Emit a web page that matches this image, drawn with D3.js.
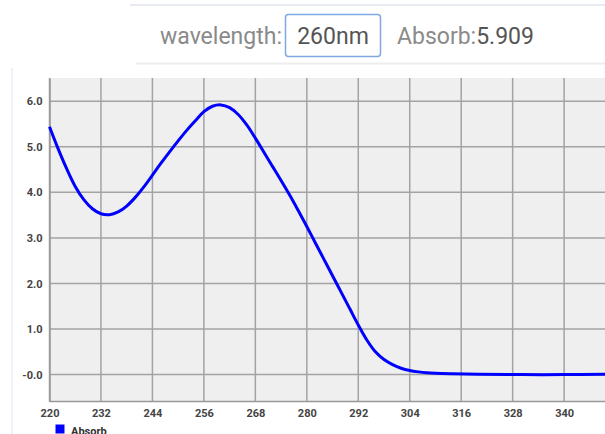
<!DOCTYPE html>
<html>
<head>
<meta charset="utf-8">
<script src="https://cdn.jsdelivr.net/npm/d3@7"></script>
<style>
  html, body { margin: 0; padding: 0; background: #fff; overflow: hidden; }
  svg { display: block; }
</style>
</head>
<body>
<div id="chart"></div>
<script>
// spectrum (nm -> absorbance)
var wavelengths = [220, 222, 224, 226, 228, 230, 232, 234, 236, 238, 240, 242, 244, 246, 248, 250,
  252, 254, 256, 258, 260, 262, 264, 266, 268, 270, 272, 274, 276, 278, 280, 282, 284, 286, 288,
  290, 292, 294, 296, 298, 300, 302, 304, 306, 308, 310, 314, 320, 330, 340, 350];
var absorb = [5.44, 4.96, 4.52, 4.13, 3.84, 3.64, 3.53, 3.51, 3.57, 3.70, 3.89, 4.12, 4.38, 4.64, 4.89, 5.13,
  5.36, 5.57, 5.77, 5.89, 5.92, 5.86, 5.71, 5.48, 5.19, 4.88, 4.57, 4.26, 3.94, 3.60, 3.25, 2.89, 2.53, 2.17, 1.81,
  1.45, 1.09, 0.76, 0.50, 0.33, 0.22, 0.14, 0.09, 0.06, 0.04, 0.03, 0.02, 0.01, 0.00, 0.00, 0.01];
var xTicks = [220, 232, 244, 256, 268, 280, 292, 304, 316, 328, 340];
var yTicks = [0, 1, 2, 3, 4, 5, 6];
var seriesName = "Absorb";
var selWavelength = "260nm";
var selAbsorb = "5.909";

var W = 605, H = 434;
var svg = d3.select("#chart").append("svg").attr("width", W).attr("height", H);

// header
svg.append("line").attr("x1", 130).attr("x2", W).attr("y1", 5).attr("y2", 5)
  .attr("stroke", "#e8ecf2").attr("stroke-width", 2);
svg.append("line").attr("x1", 136).attr("x2", W).attr("y1", 63.5).attr("y2", 63.5)
  .attr("stroke", "#eeeeee").attr("stroke-width", 2);
svg.append("line").attr("x1", 12).attr("x2", 12).attr("y1", 68).attr("y2", H)
  .attr("stroke", "#eef1f7").attr("stroke-width", 2);

var hdrFont = "23px";
svg.append("text").attr("x", 282).attr("y", 44).attr("text-anchor", "end")
  .style("font-family", "Roboto").style("font-size", hdrFont).attr("fill", "#8a8a8a")
  .text("wavelength:");
svg.append("rect").attr("x", 285.5).attr("y", 14.5).attr("width", 95).attr("height", 42).attr("rx", 3)
  .attr("fill", "#fff").attr("stroke", "#7fa9e0").attr("stroke-width", 1.5);
svg.append("text").attr("x", 333).attr("y", 44).attr("text-anchor", "middle")
  .style("font-family", "Roboto").style("font-size", hdrFont).attr("fill", "#555")
  .text(selWavelength);
var ab = svg.append("text").attr("x", 397).attr("y", 44)
  .style("font-family", "Roboto").style("font-size", hdrFont);
ab.append("tspan").attr("fill", "#8a8a8a").text(seriesName + ":");
ab.append("tspan").attr("fill", "#555").text(selAbsorb);

// plot
var m = { left: 49.5, right: 607, top: 78, bottom: 401.5 };
var x = d3.scaleLinear().domain([220, 350]).range([m.left, m.right]);
var y = d3.scaleLinear().domain([-0.59, 6.51]).range([m.bottom, m.top]);

svg.append("rect").attr("x", m.left).attr("y", m.top)
  .attr("width", W - m.left).attr("height", m.bottom - m.top).attr("fill", "#efefef");

var grid = svg.append("g").attr("stroke", "#a3a3a3").attr("stroke-width", 1.5);
grid.selectAll("line.v").data(xTicks).enter().append("line")
  .attr("x1", function(d) { return x(d); }).attr("x2", function(d) { return x(d); })
  .attr("y1", m.top).attr("y2", m.bottom);
grid.selectAll("line.h").data(yTicks).enter().append("line")
  .attr("x1", m.left).attr("x2", W)
  .attr("y1", function(d) { return y(d); }).attr("y2", function(d) { return y(d); });

// axes
var xAxis = svg.append("g").attr("transform", "translate(0," + m.bottom + ")")
  .call(d3.axisBottom(x).tickValues(xTicks).tickSize(0).tickPadding(8).tickFormat(d3.format("d")));
var yAxis = svg.append("g").attr("transform", "translate(" + m.left + ",0)")
  .call(d3.axisLeft(y).tickValues(yTicks).tickSize(0).tickPadding(7)
    .tickFormat(function(d) { return d === 0 ? "-0.0" : d3.format(".1f")(d); }));
[xAxis, yAxis].forEach(function(a) {
  a.select(".domain").attr("stroke", "#999").attr("stroke-width", 1.5);
  a.selectAll("text").style("font-family", "Roboto").style("font-size", "11px")
    .style("font-weight", "bold").attr("fill", "#444");
});
xAxis.select(".domain").attr("d", "M" + m.left + ",0H" + W);

// curve
var line = d3.line()
  .x(function(d, i) { return x(wavelengths[i]); })
  .y(function(d) { return y(d); })
  .curve(d3.curveCatmullRom.alpha(0.5));
svg.append("path").datum(absorb).attr("d", line)
  .attr("fill", "none").attr("stroke", "#0000ff").attr("stroke-width", 3);

// legend
svg.append("rect").attr("x", 55.5).attr("y", 424.5).attr("width", 9).attr("height", 9).attr("fill", "#0000ff");
svg.append("text").attr("x", 71).attr("y", 435)
  .style("font-family", "Roboto").style("font-size", "11px").style("font-weight", "bold")
  .attr("fill", "#333").text(seriesName);
</script>
</body>
</html>
